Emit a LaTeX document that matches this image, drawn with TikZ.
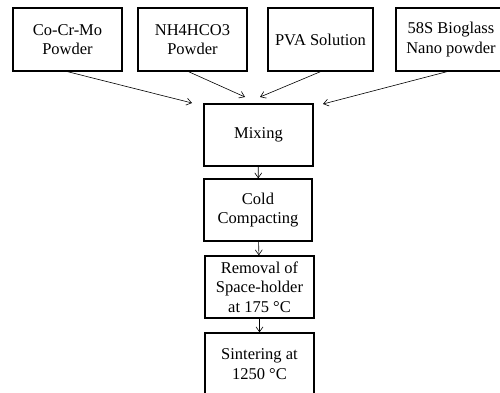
\documentclass[tikz,border=0pt]{standalone}
\usepackage{fontspec}
\setmainfont{Liberation Serif}
\usepackage{tikz}
\usetikzlibrary{
	arrows.meta, positioning, calc
}

\tikzset{
	stagebox/.style={draw, line width=1.3pt, align=center, inner sep=0pt,
		minimum height=62pt, font=\fontsize{16.5}{19.5}\selectfont},
	flowarrow/.style={line width=0.6pt, -{Straight Barb[length=5pt,width=7pt]}}
}

\begin{document}
\begin{tikzpicture}[x=1pt,y=-1pt]
	\useasboundingbox (0,0) rectangle (500,392);
	\node[stagebox,minimum width=109pt,minimum height=63pt] (comix) at (67.5,39.5) {Co-Cr-Mo\\Powder};
	\node[stagebox,minimum width=109pt,minimum height=63pt] (ammon) at (192.5,39.5) {NH4HCO3\\Powder};
	\node[stagebox,minimum width=105pt,minimum height=63pt] (pva) at (320.5,39.5) {PVA Solution};
	\node[stagebox,minimum width=110pt,minimum height=63pt] (bioglass) at (451,39.5) {58S Bioglass\\Nano powder};
	\node[stagebox,minimum width=109pt] (mixing) at (258.5,135) {Mixing};
	\node[stagebox,minimum width=108pt] (cold) at (258,210) {Cold\\Compacting};
	\node[stagebox,minimum width=109pt] (removal) at (259.5,287) {Removal of\\Space-holder\\at 175 °C};
	\node[stagebox,minimum width=109pt] (sinter) at (259.5,364) {Sintering at\\1250 °C};
	\coordinate (in1) at (192,103);
	\coordinate (in2) at (245,97);
	\coordinate (in3) at (260,97);
	\coordinate (in4) at (323,104);
	\draw[flowarrow] (comix.south) -- (in1);
	\draw[flowarrow] ([xshift=-4pt]ammon.south) -- (in2);
	\draw[flowarrow] (pva.south) -- (in3);
	\draw[flowarrow] ([xshift=-4pt]bioglass.south) -- (in4);
	\draw[flowarrow] (mixing) -- (cold);
	\draw[flowarrow] (cold) -- (removal);
	\draw[flowarrow] (removal) -- (sinter);
\end{tikzpicture}
\end{document}
